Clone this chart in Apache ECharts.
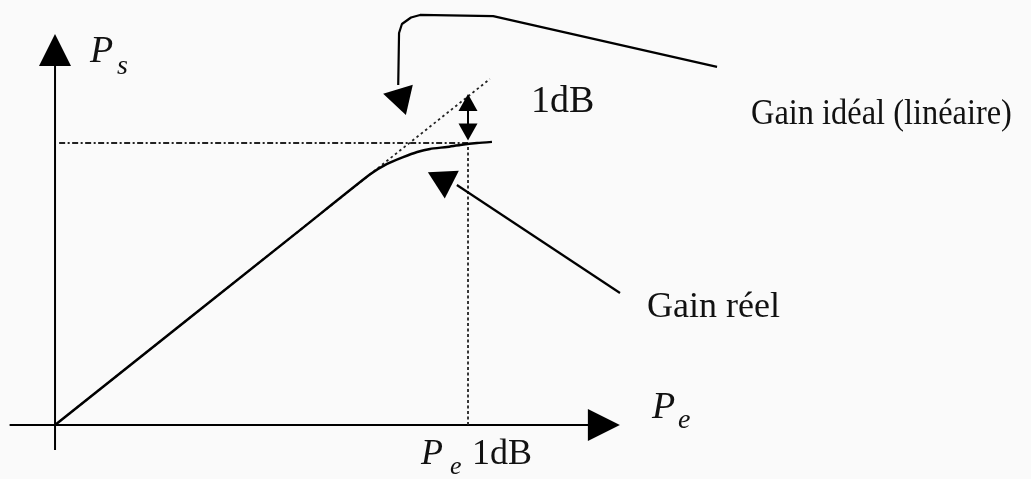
<!DOCTYPE html>
<html>
<head>
<meta charset="utf-8">
<script src="https://cdn.jsdelivr.net/npm/echarts@6/dist/echarts.min.js"></script>
<style>
  html, body { margin: 0; padding: 0; background: #fafafa; }
  #chart { width: 1031px; height: 479px; }
</style>
</head>
<body>
<div id="chart"></div>
<script>
// Compression curve of an amplifier: output power Ps versus input power Pe
// (schematic units, no graduations).
const realGain = [[0, 0], [60, 69.9], [76.3, 88.9], [80.4, 92.6], [84.3, 95.0], [87.7, 96.8], [90.8, 97.9],
                  [94.9, 98.6], [98.1, 99.3], [102.2, 100.0], [105.8, 100.4]];
const idealGain = [[0, 0], [105.3, 122.7]];
const compressionLevel = [[1, 100], [100, 100]];
const compressionInput = [[100, 0], [100, 100]];
const oneDbSpan = [[100, 103.9], [100, 114.4]];

// Axis lines (drawn as series so that annotations may extend past them)
const xAxisLine = [[-11, 0], [132.9, 0]];
const yAxisLine = [[0, -8.9], [0, 133]];

// Pointer lines for the two annotations
const idealPointer = [[160.3, 127.0], [106.1, 145.0], [88.4, 145.4], [86.2, 144.5], [84.0, 142.2],
                      [83.3, 139.0], [83.1, 120.6]];
const realPointer = [[136.8, 46.8], [97.3, 85.1]];

// Arrow heads: [x, y, rotation in degrees]
const axisArrows = [[132.9, 0, -90], [0, 133, 0]];
const pointerArrows = [[84.0, 114.5, 197], [94.2, 85.1, 183]];
const oneDbArrows = [[100, 114.4, 0], [100, 103.9, 180]];

const FONT = "'Liberation Serif', 'DejaVu Serif', serif";
const INK = '#111';

const chart = echarts.init(document.getElementById('chart'), null, { renderer: 'canvas' });

function text(str, x, y, size, italic, scaleX) {
  return {
    type: 'text', x: x, y: y, z: 50, scaleX: scaleX || 1,
    style: {
      text: str, fill: INK, font: (italic ? 'italic ' : '') + size + 'px ' + FONT,
      align: 'left', verticalAlign: 'middle'
    }
  };
}

function arrows(name, list, size) {
  return {
    name: name, type: 'scatter', clip: false, z: 4, symbol: 'triangle', symbolSize: size,
    data: list.map(a => ({ value: [a[0], a[1]], symbolRotate: a[2] })),
    itemStyle: { color: '#000', opacity: 1 }
  };
}

function segment(name, data, style, extra) {
  return Object.assign({
    name: name, type: 'line', data: data, showSymbol: false, clip: false, z: 2, lineStyle: style
  }, extra || {});
}

const hiddenAxis = {
  type: 'value', axisLine: { show: false }, axisTick: { show: false },
  axisLabel: { show: false }, splitLine: { show: false }
};

chart.setOption({
  backgroundColor: '#fafafa',
  animation: false,
  grid: { left: 9.6, right: 273.9, top: 2, bottom: 28.9 },
  xAxis: Object.assign({ min: -11, max: 170 }, hiddenAxis),
  yAxis: Object.assign({ min: -8.9, max: 150 }, hiddenAxis),
  series: [
    segment('Pe', xAxisLine, { color: '#000', width: 2 }),
    segment('Ps', yAxisLine, { color: '#000', width: 2 }),
    segment('Gain idéal', idealGain, { color: '#222', width: 1.8, type: [2.5, 3] }),
    segment('Niveau 1 dB', compressionLevel, { color: '#222', width: 1.8, type: [6, 2.5, 2, 2.5] }),
    segment('Pe 1dB', compressionInput, { color: '#222', width: 1.8, type: [3, 2.5] }),
    segment('Gain réel', realGain, { color: '#000', width: 2.5 }, { z: 3, smooth: 0.2 }),
    segment('Écart', oneDbSpan, { color: '#000', width: 2 }, { z: 3 }),
    segment('Renvoi idéal', idealPointer, { color: '#000', width: 2.2 }, { z: 3 }),
    segment('Renvoi réel', realPointer, { color: '#000', width: 2.2 }, { z: 3 }),
    arrows('Flèches axes', axisArrows, [32, 32]),
    arrows('Flèches renvoi', pointerArrows, [31, 27]),
    arrows('Flèches 1 dB', oneDbArrows, [19, 17])
  ],
  graphic: [
    text('P', 90, 52, 38, true),
    text('s', 117, 67, 28, true),
    text('P', 652, 408, 38, true),
    text('e', 678, 421, 28, true),
    text('P', 421, 455, 36, true),
    text('e', 450, 467, 26, true),
    text('1dB', 472, 455, 36, false),
    text('1dB', 531, 102, 38, false),
    text('Gain idéal (linéaire)', 751, 115, 36, false, 0.9),
    text('Gain réel', 647, 308, 36, false)
  ]
});
</script>
</body>
</html>
